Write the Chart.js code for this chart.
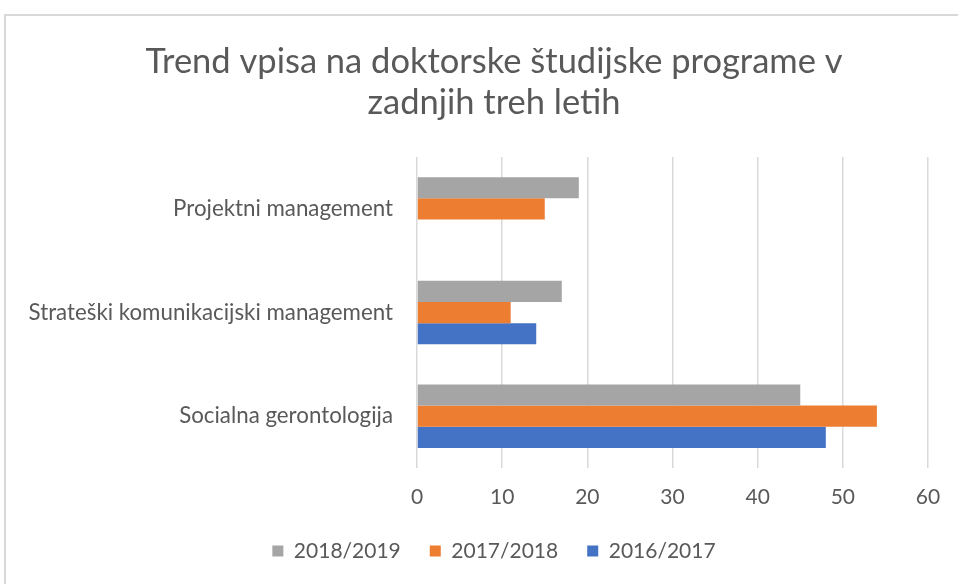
<!DOCTYPE html>
<html>
<head>
<meta charset="utf-8">
<script src="https://cdn.jsdelivr.net/npm/chart.js@4.4.1/dist/chart.umd.min.js"></script>
<style>
  html, body { margin: 0; padding: 0; background: #fff; }
  #wrap { position: absolute; left: 0; top: 0; width: 958px; height: 584px; }
  #frame { position: absolute; left: 4px; top: 14px; width: 970px; height: 600px;
           border-left: 2px solid #d9d9d9; border-top: 2px solid #d9d9d9; pointer-events: none; }
</style>
</head>
<body>
<div id="wrap"><canvas id="grafik"></canvas></div>
<div id="frame"></div>
<script>
// podatki
const programi = ['Projektni management', 'Strateški komunikacijski management', 'Socialna gerontologija'];
const leto1819 = [19, 17, 45];
const leto1718 = [15, 11, 54];
const leto1617 = [null, 14, 48];
const naslov = ['Trend vpisa na doktorske študijske programe v', 'zadnjih treh letih'];

const pisava = 'Lato, "Open Sans", sans-serif';
const barvaBesedila = '#595959';

// oznake osi y segajo v levi odmik, zato jim razširimo levi rob
const razsiriOsY = {
  id: 'razsiriOsY',
  afterLayout(chart) { chart.scales.y.left = 0; }
};

const ctx = document.getElementById('grafik').getContext('2d');
const grafik = new Chart(ctx, {
  type: 'bar',
  data: {
    labels: programi,
    datasets: [
      { label: '2018/2019', data: leto1819, backgroundColor: '#a5a5a5' },
      { label: '2017/2018', data: leto1718, backgroundColor: '#ed7d31' },
      { label: '2016/2017', data: leto1617, backgroundColor: '#4472c4' }
    ]
  },
  plugins: [razsiriOsY],
  options: {
    indexAxis: 'y',
    responsive: true,
    maintainAspectRatio: false,
    animation: false,
    categoryPercentage: 0.613,
    barPercentage: 1,
    layout: { padding: { left: 60, right: 30, top: 0, bottom: 12.5 } },
    plugins: {
      title: {
        display: true,
        text: naslov,
        color: barvaBesedila,
        font: { family: pisava, size: 34.5, weight: 'normal', lineHeight: 1.19 },
        padding: { top: 41, bottom: 34 }
      },
      legend: {
        position: 'bottom',
        labels: {
          color: barvaBesedila,
          font: { family: pisava, size: 21 },
          boxWidth: 11,
          boxHeight: 11,
          padding: 29
        }
      },
      tooltip: { enabled: false }
    },
    scales: {
      x: {
        min: 0,
        max: 60,
        afterFit: (s) => { s.height = 43.5; },
        ticks: { stepSize: 10, color: barvaBesedila, font: { family: pisava, size: 21 }, padding: 16.4 },
        grid: { color: '#d9d9d9', lineWidth: 1.5, drawTicks: false },
        border: { display: false }
      },
      y: {
        afterFit: (s) => { s.width = 357; },
        ticks: { color: barvaBesedila, font: { family: pisava, size: 22.3 }, padding: 16 },
        grid: { display: false },
        border: { display: false }
      }
    }
  }
});
</script>
</body>
</html>
